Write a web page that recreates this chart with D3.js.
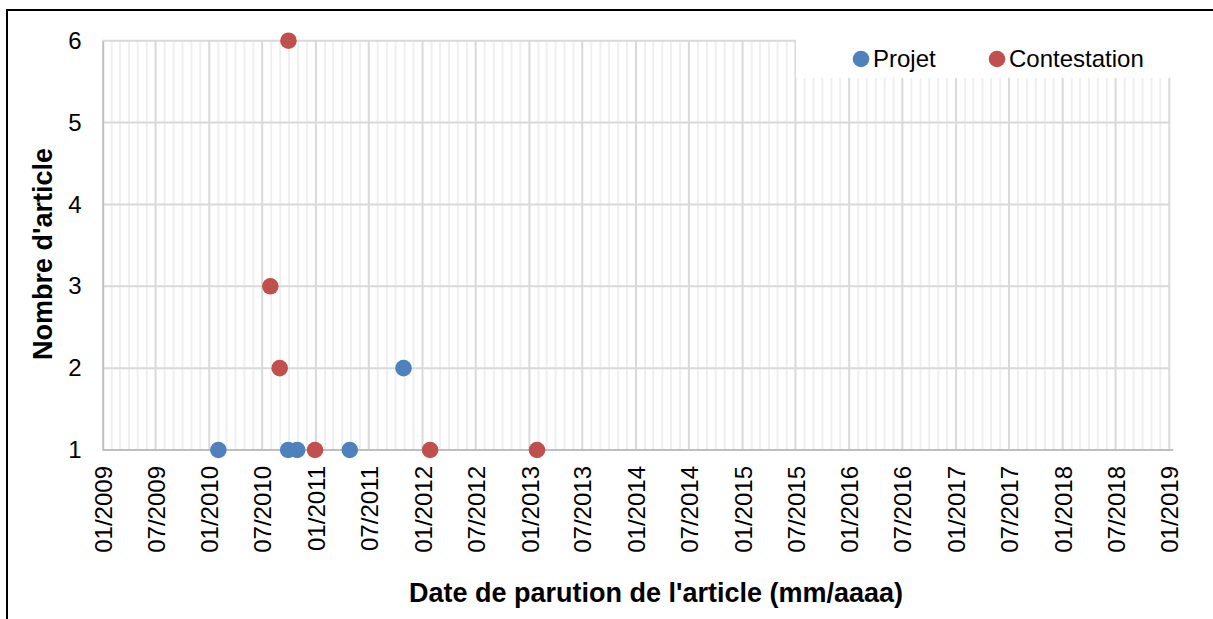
<!DOCTYPE html>
<html>
<head>
<meta charset="utf-8">
<script src="https://cdn.jsdelivr.net/npm/d3@7"></script>
<style>
  html, body { margin: 0; padding: 0; background: #fff; }
  svg { display: block; }
  text { font-family: "Liberation Sans", Arial, sans-serif; fill: #000; }
</style>
</head>
<body>
<svg id="chart" width="1213" height="619"></svg>
<script>
// Articles per publication date, by category
const projetDates = ["2010-02-01", "2010-09-28", "2010-10-29", "2011-04-27", "2011-10-28"];
const projetValues = [1, 1, 1, 1, 2];
const contestationDates = ["2010-07-29", "2010-08-30", "2010-09-29", "2010-12-29", "2012-01-27", "2013-01-27"];
const contestationValues = [3, 2, 6, 1, 1, 1];
const seriesNames = ["Projet", "Contestation"];
const seriesColors = ["#4f81bd", "#c0504d"];
const yTicks = [1, 2, 3, 4, 5, 6];
const xStart = "2009-01-01";
const xEnd = "2019-01-01";

const parse = d3.utcParse("%Y-%m-%d");
const fmt = d3.utcFormat("%m/%Y");

const svg = d3.select("#chart");
const W = 1213, H = 619;
const plot = { left: 102.7, right: 1169.3, top: 40.7, bottom: 450 };

const x = d3.scaleUtc().domain([parse(xStart), parse(xEnd)]).range([plot.left, plot.right]);
const y = d3.scaleLinear().domain([1, 6]).range([plot.bottom, plot.top]);

// outer frame
svg.append("rect").attr("x", 7).attr("y", 10).attr("width", W).attr("height", H)
  .attr("fill", "#fff").attr("stroke", "#000").attr("stroke-width", 2);

const grid = svg.append("g");
// monthly minor gridlines
const minorTicks = x.ticks(d3.utcMonth.every(1)).filter(d => d.getUTCMonth() % 6 !== 0);
grid.selectAll("line.minor").data(minorTicks).join("line")
  .attr("x1", d => x(d)).attr("x2", d => x(d))
  .attr("y1", plot.top).attr("y2", plot.bottom)
  .attr("stroke", "#efefef").attr("stroke-width", 2);
// six-monthly major gridlines
const majorTicks = x.ticks(d3.utcMonth.every(6));
grid.selectAll("line.major").data(majorTicks.slice(1)).join("line")
  .attr("x1", d => x(d)).attr("x2", d => x(d))
  .attr("y1", plot.top).attr("y2", plot.bottom)
  .attr("stroke", "#d9d9d9").attr("stroke-width", 2);
// horizontal gridlines
grid.selectAll("line.h").data(yTicks.slice(1)).join("line")
  .attr("x1", plot.left).attr("x2", plot.right)
  .attr("y1", d => y(d)).attr("y2", d => y(d))
  .attr("stroke", "#d9d9d9").attr("stroke-width", 2);

// axes
const xAxis = svg.append("g").attr("transform", `translate(0,${plot.bottom})`)
  .call(d3.axisBottom(x).tickValues(majorTicks).tickFormat(fmt).tickSize(0).tickPadding(0));
xAxis.select(".domain").attr("stroke", "#bfbfbf").attr("stroke-width", 2)
  .attr("d", `M${plot.left},0H${plot.right + 4}`);
xAxis.selectAll(".tick text")
  .attr("transform", "rotate(-90)")
  .attr("text-anchor", "end")
  .attr("x", -16).attr("y", 0).attr("dy", "0.36em")
  .style("font-size", "24px").style("font-family", "Liberation Sans, Arial, sans-serif");

const yAxis = svg.append("g").attr("transform", `translate(${plot.left},0)`)
  .call(d3.axisLeft(y).tickValues(yTicks).tickFormat(d3.format("d")).tickSize(0).tickPadding(21));
yAxis.select(".domain").attr("stroke", "#bfbfbf").attr("stroke-width", 2);
yAxis.selectAll(".tick text")
  .style("font-size", "24px").style("font-family", "Liberation Sans, Arial, sans-serif");

// legend background and entries
svg.append("rect").attr("x", 796).attr("y", 30).attr("width", 380).attr("height", 48).attr("fill", "#fff");
const legendX = [861, 997];
seriesNames.forEach((name, i) => {
  svg.append("circle").attr("cx", legendX[i]).attr("cy", 59).attr("r", 8.3).attr("fill", seriesColors[i]);
  svg.append("text").attr("x", legendX[i] + 12).attr("y", 67).text(name).style("font-size", "24px");
});

// points
function drawSeries(dates, values, color) {
  svg.append("g").selectAll("circle").data(dates.map((d, i) => ({ d: parse(d), v: values[i] })))
    .join("circle")
    .attr("cx", p => x(p.d)).attr("cy", p => y(p.v)).attr("r", 8.3)
    .attr("fill", color);
}
drawSeries(projetDates, projetValues, seriesColors[0]);
drawSeries(contestationDates, contestationValues, seriesColors[1]);

// axis titles
svg.append("text").attr("x", 656).attr("y", 602).attr("text-anchor", "middle")
  .style("font-size", "27px").style("font-weight", "bold")
  .text("Date de parution de l'article (mm/aaaa)");
svg.append("text").attr("transform", "translate(52,254) rotate(-90)").attr("text-anchor", "middle")
  .style("font-size", "27px").style("font-weight", "bold")
  .text("Nombre d'article");
</script>
</body>
</html>
